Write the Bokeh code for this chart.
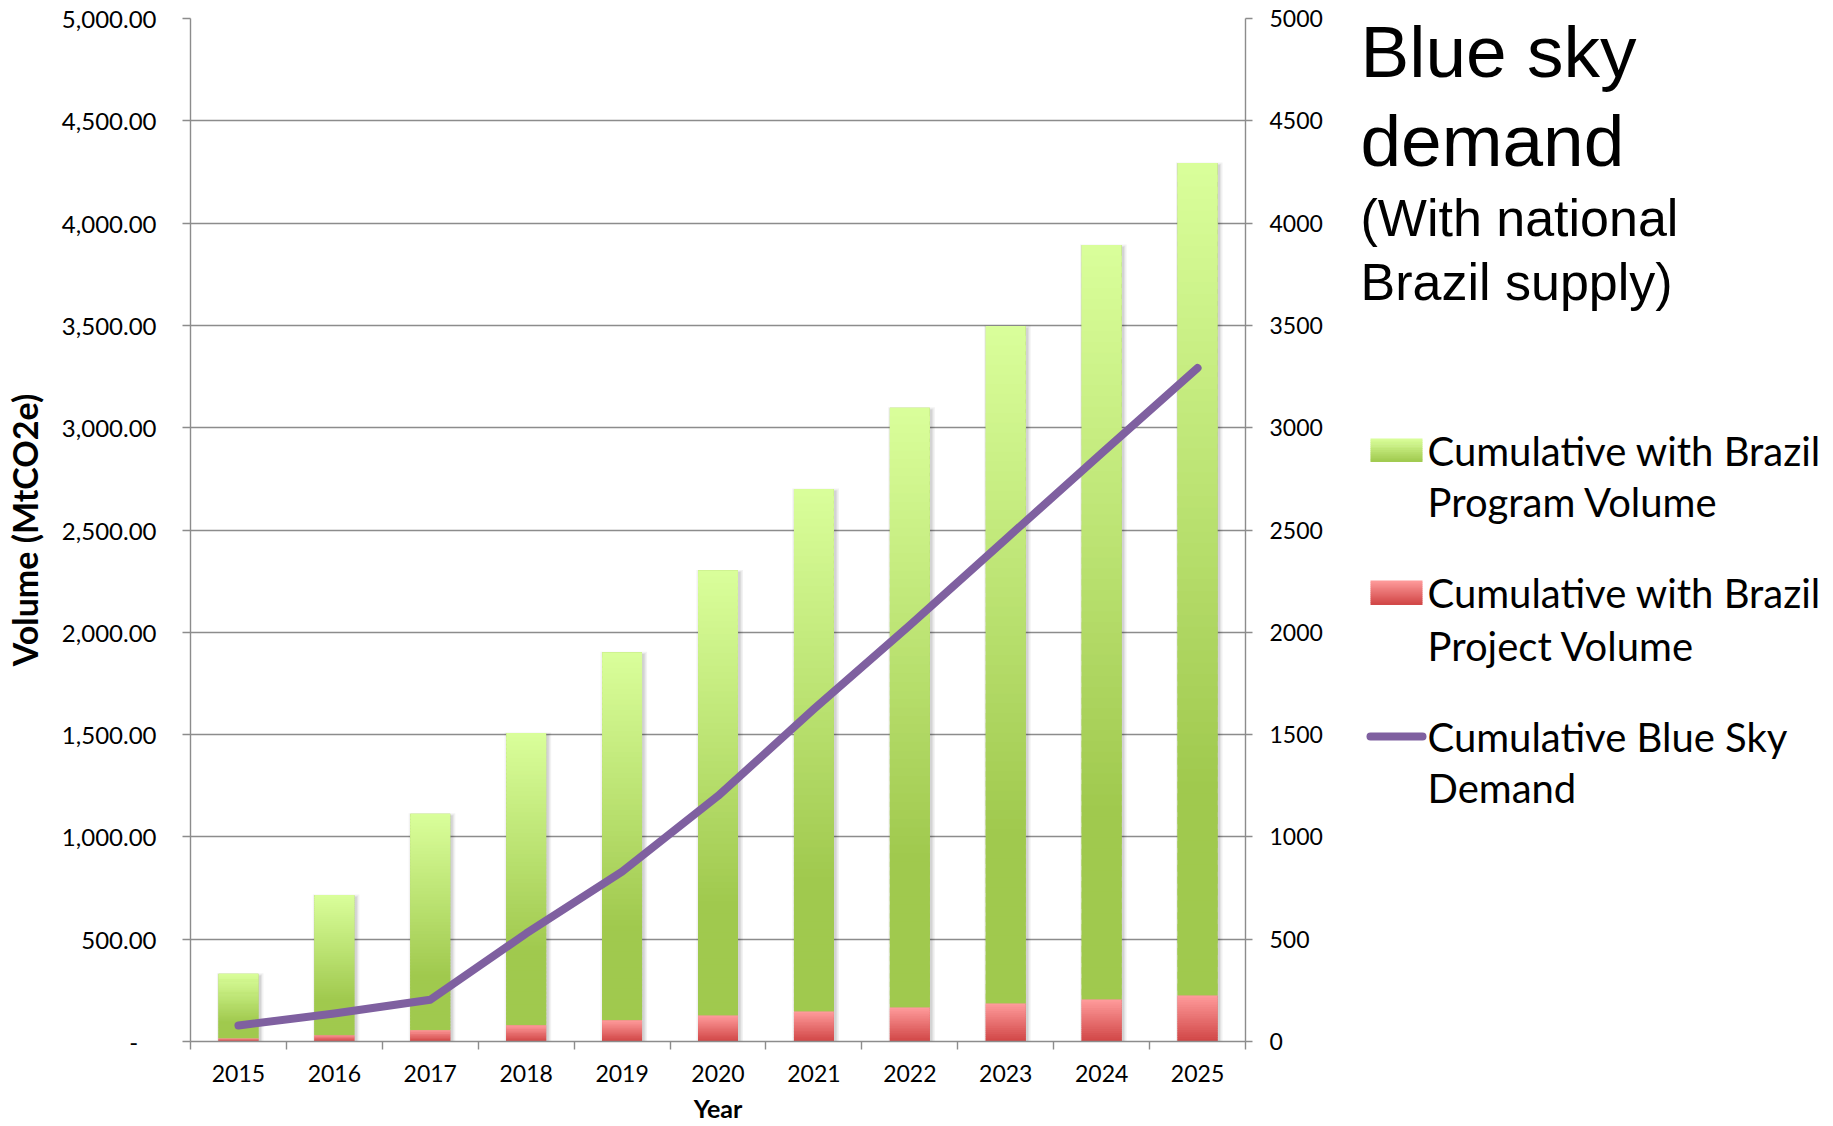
import numpy as np
from bokeh.plotting import figure
from bokeh.models import (Range1d, LinearAxis, FixedTicker, CustomJSTickFormatter,
                          ColumnDataSource)
from bokeh.layouts import row
from bokeh.embed import file_html
from bokeh.resources import INLINE
from bokeh.core.properties import value

# ---------------- data ----------------
years = ["2015", "2016", "2017", "2018", "2019", "2020", "2021", "2022", "2023", "2024", "2025"]
project_volume = [15, 30, 55, 80, 104, 127, 147, 166, 186, 205, 225]
program_volume = [316, 686, 1058, 1428, 1799, 2176, 2554, 2932, 3311, 3688, 4069]
blue_sky_demand = [78, 137, 204, 528, 830, 1200, 1625, 2035, 2455, 2875, 3292]

left_tick_values = [0, 500, 1000, 1500, 2000, 2500, 3000, 3500, 4000, 4500, 5000]
left_tick_labels = ["-\u00a0\u00a0\u00a0", "500.00", "1,000.00", "1,500.00", "2,000.00", "2,500.00",
                    "3,000.00", "3,500.00", "4,000.00", "4,500.00", "5,000.00"]
right_tick_labels = ["0", "500", "1000", "1500", "2000", "2500", "3000", "3500", "4000", "4500", "5000"]

title_lines = ["Blue sky", "demand"]
subtitle_lines = ["(With national", "Brazil supply)"]
legend_lines = ["Cumulative with Brazil", "Program Volume",
                "Cumulative with Brazil", "Project Volume",
                "Cumulative Blue Sky", "Demand"]

# ---------------- styles ----------------
GREEN_TOP, GREEN_BOT = (0xDA, 0xFF, 0x9B), (0xA0, 0xC9, 0x4E)
RED_TOP, RED_BOT = (0xFF, 0x9C, 0x9C), (0xD0, 0x45, 0x45)
PURPLE = "#7F60A0"
GRID = "#8C8C8C"
TICK_FONT = "Lato"
BAR_W = 0.416

H = 1126
P_W = 1340
Q_W = 1833 - P_W
B_TOP, B_BOT = 18, 85
FRAME_TOP, FRAME_BOT = B_TOP, H - B_BOT


def hexc(c):
    return "#%02x%02x%02x" % tuple(int(round(v)) for v in c)


def lerp(a, b, t):
    return tuple(a[i] + (b[i] - a[i]) * t for i in range(3))


def gradient_slices(xs, bottoms, tops, c_top, c_bot, nslices, full_at):
    X, B, T, C = [], [], [], []
    for x, b, t in zip(xs, bottoms, tops):
        h = t - b
        step = h / nslices
        for k in range(nslices):
            f0, f1 = k / nslices, (k + 1) / nslices
            top = t - f0 * h
            bot = max(b, t - f1 * h - 0.6 * step)
            frac = min(((f0 + f1) / 2) / full_at, 1.0)
            X.append(x); B.append(bot); T.append(top)
            C.append(hexc(lerp(c_top, c_bot, frac)))
    return dict(x=X, bottom=B, top=T, color=C)


n = len(years)
xc = [i + 0.5 for i in range(n)]
totals = [a + b for a, b in zip(project_volume, program_volume)]

src = ColumnDataSource(dict(x=xc, project=project_volume, program=program_volume,
                            total=totals, demand=blue_sky_demand))

# ---------------- main chart ----------------
p = figure(width=P_W, height=H, x_range=Range1d(0, n), y_range=Range1d(0, 5000),
           output_backend="svg", toolbar_location=None,
           min_border_left=187, min_border_right=95, min_border_top=B_TOP, min_border_bottom=B_BOT)
p.outline_line_color = None
p.background_fill_color = "white"
p.border_fill_color = "white"
p.xgrid.visible = False
p.ygrid.ticker = FixedTicker(ticks=left_tick_values)
p.ygrid.grid_line_color = GRID
p.ygrid.grid_line_width = 1.4

p.extra_y_ranges = {"demand": Range1d(0, 5000)}

# soft bar shadows
for k, a in [(0.035, 0.05), (0.02, 0.06), (0.008, 0.07)]:
    p.vbar(x=[x + 0.018 for x in xc], width=BAR_W + 2 * k, top=[t + 8 * k / 0.02 - 12 for t in totals],
           bottom=0, fill_color="black", fill_alpha=a, line_color=None)

# stacked bars (solid base)
p.vbar_stack(["project", "program"], x="x", width=BAR_W, source=src,
             fill_color=[hexc(RED_BOT), hexc(GREEN_BOT)], line_color=None)

# gradient shading over each segment
g = gradient_slices(xc, project_volume, totals, GREEN_TOP, GREEN_BOT, 70, 0.75)
p.vbar(x="x", bottom="bottom", top="top", width=BAR_W, fill_color="color", line_color=None,
       source=ColumnDataSource(g))
r = gradient_slices(xc, [0] * n, project_volume, RED_TOP, RED_BOT, 20, 1.0)
p.vbar(x="x", bottom="bottom", top="top", width=BAR_W, fill_color="color", line_color=None,
       source=ColumnDataSource(r))

# demand line (secondary axis)
p.line(x="x", y="demand", source=src, y_range_name="demand", line_color=PURPLE,
       line_width=8, line_cap="round", line_join="round")

# x axis
xa = p.xaxis[0]
xa.ticker = FixedTicker(ticks=xc, minor_ticks=list(range(n + 1)))
xa.formatter = CustomJSTickFormatter(args=dict(labels=years),
                                     code="return labels[Math.round(tick - 0.5)];")
xa.major_tick_line_color = None
xa.minor_tick_line_color = GRID
xa.minor_tick_line_width = 1.4
xa.minor_tick_out = 8
xa.minor_tick_in = 0
xa.axis_line_color = GRID
xa.axis_line_width = 1.4
xa.major_label_text_font = TICK_FONT
xa.major_label_text_font_size = "23px"
xa.major_label_text_color = "black"
xa.major_label_standoff = 15
xa.axis_label = "Year"
xa.axis_label_text_font = TICK_FONT
xa.axis_label_text_font_style = "bold"
xa.axis_label_text_font_size = "25px"
xa.axis_label_text_color = "black"
xa.axis_label_standoff = 8

# left axis
ya = p.yaxis[0]
ya.ticker = FixedTicker(ticks=left_tick_values)
ya.major_label_overrides = dict(zip(left_tick_values, left_tick_labels))
ya.major_tick_out = 8
ya.major_tick_in = 0
ya.minor_tick_line_color = None
ya.major_tick_line_color = GRID
ya.major_tick_line_width = 1.4
ya.axis_line_color = GRID
ya.axis_line_width = 1.4
ya.major_label_text_font = TICK_FONT
ya.major_label_text_font_size = "24px"
ya.major_label_text_color = "black"
ya.major_label_standoff = 26
ya.axis_label = "Volume (MtCO2e)"
ya.axis_label_text_font = TICK_FONT
ya.axis_label_text_font_style = "bold"
ya.axis_label_text_font_size = "34px"
ya.axis_label_text_color = "black"
ya.axis_label_standoff = 14

# right axis
ra = LinearAxis(y_range_name="demand", ticker=FixedTicker(ticks=left_tick_values))
ra.major_label_overrides = dict(zip(left_tick_values, right_tick_labels))
ra.major_tick_out = 7
ra.major_tick_in = 0
ra.minor_tick_line_color = None
ra.major_tick_line_color = GRID
ra.major_tick_line_width = 1.4
ra.axis_line_color = GRID
ra.axis_line_width = 1.4
ra.major_label_text_font = TICK_FONT
ra.major_label_text_font_size = "23px"
ra.major_label_text_color = "black"
ra.major_label_standoff = 17
p.add_layout(ra, "right")

# ---------------- side panel: title + legend (page-pixel coordinates) ----------------
q = figure(width=Q_W, height=H, x_range=Range1d(P_W, P_W + Q_W),
           y_range=Range1d(FRAME_BOT, FRAME_TOP),
           x_axis_type=None, y_axis_type=None, output_backend="svg", toolbar_location=None,
           min_border_left=0, min_border_right=0, min_border_top=B_TOP, min_border_bottom=B_BOT)
q.outline_line_color = None
q.background_fill_color = "white"
q.border_fill_color = "white"

q.text(x=[1360, 1360], y=[51, 140], text=title_lines, text_font=value("Liberation Sans"),
       text_font_size=value("73px"), text_baseline="alphabetic", text_color="black")
q.text(x=[1360, 1360], y=[217, 281], text=subtitle_lines, text_font=value("Liberation Sans"),
       text_font_size=value("52px"), text_baseline="alphabetic", text_color="black")


def swatch(y0, y1, c_top, c_bot, m=12):
    ys = np.linspace(y0, y1, m + 1)
    cols = [hexc(lerp(c_top, c_bot, (k + 0.5) / m)) for k in range(m)]
    q.quad(left=1370, right=1422, top=list(ys[:-1]), bottom=list(ys[1:] + 0.6),
           fill_color=cols, line_color=None)


swatch(438, 461, GREEN_TOP, GREEN_BOT)
swatch(580, 604, RED_TOP, RED_BOT)
q.line(x=[1370, 1422], y=[736, 736], line_color=PURPLE, line_width=8, line_cap="round")

q.text(x=[1427] * 6, y=[450, 501, 592, 645, 736, 787], text=legend_lines, text_font=value("Lato"),
       text_font_size=value("40px"), text_baseline="alphabetic", text_color="black")

layout = row(p, q)
open("out.html", "w").write(file_html(layout, INLINE))
